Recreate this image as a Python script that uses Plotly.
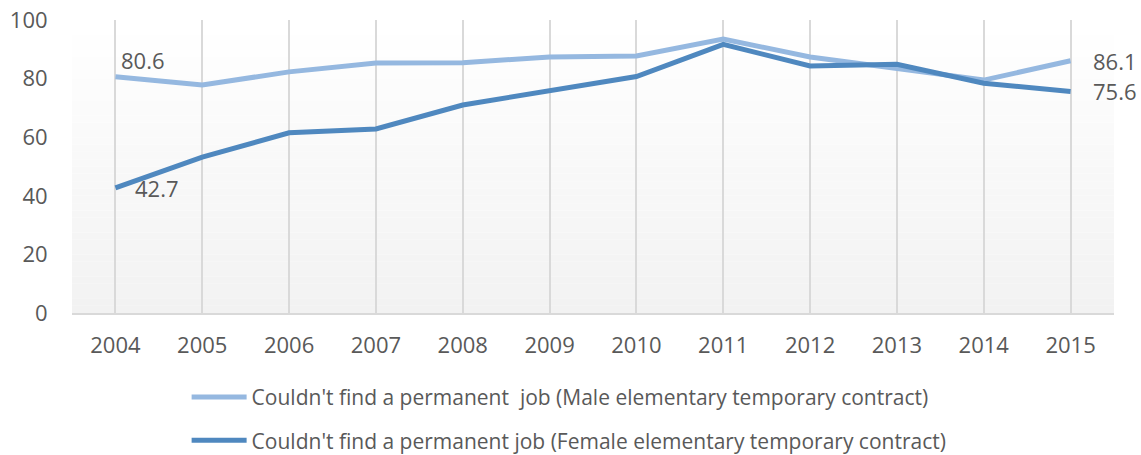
import plotly.graph_objects as go

years = ["2004", "2005", "2006", "2007", "2008", "2009", "2010", "2011", "2012", "2013", "2014", "2015"]
male = [80.6, 77.8, 82.3, 85.3, 85.4, 87.4, 87.7, 93.5, 87.4, 83.5, 79.5, 86.1]
female = [42.7, 53.2, 61.5, 62.8, 71.0, 75.9, 80.7, 91.7, 84.3, 84.9, 78.4, 75.6]
male_name = "Couldn't find a permanent  job (Male elementary temporary contract)"
female_name = "Couldn't find a permanent job (Female elementary temporary contract)"
y_ticks = [0, 20, 40, 60, 80, 100]

FONT = "Open Sans"
TXT = "#595959"

fig = go.Figure()

# gradient plot background (domain-referenced bands)
n = 40
for i in range(n):
    t = i / (n - 1)
    c = int(round(242 + (255 - 242) * t))
    fig.add_shape(type="rect", xref="x domain", yref="y domain",
                  x0=0, x1=1, y0=i / n, y1=(i + 1) / n,
                  fillcolor=f"rgb({c},{c},{c})", line=dict(width=0), layer="below")

fig.add_trace(go.Scatter(
    x=years, y=male, mode="lines", name=male_name,
    line=dict(color="#95b8e0", width=5),
    legendgroup="m",
))
fig.add_trace(go.Scatter(
    x=years, y=female, mode="lines", name=female_name,
    line=dict(color="#4f88bf", width=5),
    legendgroup="f",
))

# data labels on first and last points (category index positions)
lab_font = dict(family=FONT, size=22, color=TXT)
first, last = 0, len(years) - 1
for vals, first_shift in ((male, (4, 17)), (female, (18, 0))):
    fig.add_annotation(x=first, y=vals[first], text=f"{vals[first]:.1f}", showarrow=False,
                       xanchor="left", yanchor="middle",
                       xshift=first_shift[0], yshift=first_shift[1], font=lab_font)
    fig.add_annotation(x=last, y=vals[last], text=f"{vals[last]:.1f}", showarrow=False,
                       xanchor="left", yanchor="middle",
                       xshift=20, yshift=0, font=lab_font)

fig.update_layout(
    width=1141, height=455,
    margin=dict(l=72, r=27, t=20, b=142, autoexpand=False),
    paper_bgcolor="white", plot_bgcolor="white",
    font=dict(family=FONT, size=22, color=TXT),
    showlegend=True,
    legend=dict(x=0.11, y=-0.218, xanchor="left", yanchor="top",
                orientation="v", traceorder="grouped", tracegroupgap=13,
                itemwidth=55,
                font=dict(family=FONT, size=21, color=TXT),
                bgcolor="rgba(0,0,0,0)", borderwidth=0),
)
fig.update_xaxes(type="category", showgrid=True, gridcolor="#d9d9d9", gridwidth=2,
                 showline=True, linecolor="#d9d9d9", linewidth=2,
                 ticks="outside", ticklen=12, tickcolor="rgba(0,0,0,0)",
                 tickfont=dict(family=FONT, size=22, color=TXT),
                 range=[-0.5, len(years) - 0.5], automargin=False)
fig.update_yaxes(range=[0, 100], tickvals=y_ticks, showgrid=False, zeroline=False,
                 ticks="outside", ticklen=19, tickcolor="rgba(0,0,0,0)",
                 tickfont=dict(family=FONT, size=22, color=TXT), automargin=False)

fig.write_html(
    "out.html",
    config={"displayModeBar": False},
    post_script="document.documentElement.style.overflow='hidden';"
                "document.body.style.margin='0';document.body.style.overflow='hidden';",
)
